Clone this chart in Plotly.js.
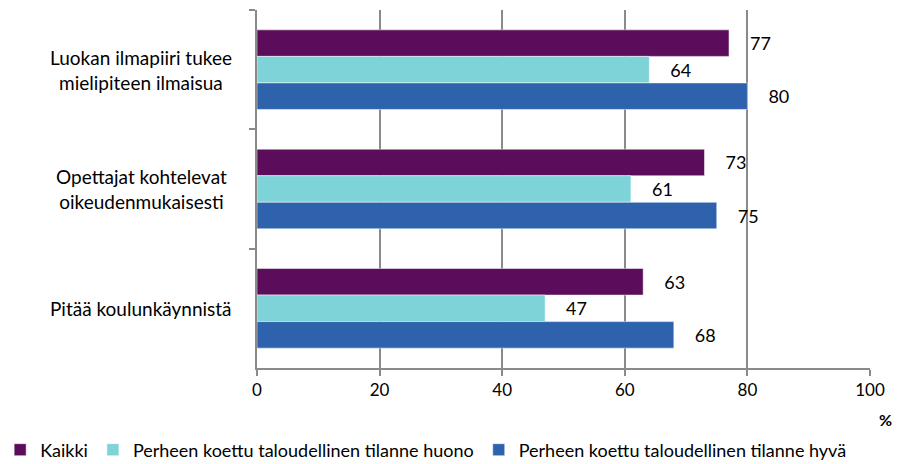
<!DOCTYPE html>
<html>
<head>
<meta charset="utf-8">
<script src="https://cdn.plot.ly/plotly-3.0.1.min.js"></script>
<style>
  html, body { margin: 0; padding: 0; background: #fff; }
  #chart { width: 911px; height: 464px; }
</style>
</head>
<body>
<div id="chart"></div>
<script>
// Statements (top to bottom) and the share (%) of pupils agreeing
const categories = [
  "Luokan ilmapiiri tukee<br>mielipiteen ilmaisua",
  "Opettajat kohtelevat<br>oikeudenmukaisesti",
  "Pitää koulunkäynnistä"
];
const seriesNames = [
  "Kaikki",
  "Perheen koettu taloudellinen tilanne huono",
  "Perheen koettu taloudellinen tilanne hyvä"
];
const kaikki = [77, 73, 63];
const huono = [64, 61, 47];
const hyva = [80, 75, 68];
const xTicks = [0, 20, 40, 60, 80, 100];

const colors = ["#5B0C5A", "#7DD3D8", "#2E62AD"];
const FONT = "Lato, 'Open Sans', sans-serif";

const values = [kaikki, huono, hyva];
const traces = values.map((v, i) => ({
  type: "bar",
  orientation: "h",
  name: seriesNames[i],
  x: v,
  y: categories,
  texttemplate: "\u2002\u2002%{x}",
  textposition: "outside",
  cliponaxis: false,
  textfont: { family: FONT, size: 18, color: "#000" },
  marker: { color: colors[i], line: { color: "rgba(255,255,255,0.5)", width: 1 } },
  hoverinfo: "x+name"
}));

// Category labels drawn as centred annotations to the left of the plot
const labelAnnotations = categories.map(c => ({
  xref: "paper", yref: "y",
  x: -0.189, y: c,
  xanchor: "center", yanchor: "middle",
  text: c, showarrow: false, align: "center",
  font: { family: FONT, size: 19, color: "#000" }
}));

const layout = {
  width: 911, height: 464,
  margin: { l: 257, r: 41, t: 10, b: 96, autoexpand: false },
  paper_bgcolor: "#fff", plot_bgcolor: "#fff",
  barmode: "group",
  bargap: 0.333,
  bargroupgap: 0,
  font: { family: FONT, size: 17, color: "#000" },
  xaxis: {
    range: [0, 100],
    tickvals: xTicks,
    ticktext: xTicks.map(String),
    showgrid: true, gridcolor: "#8A8A8A", gridwidth: 2,
    zeroline: false,
    showline: true, linecolor: "#8A8A8A", linewidth: 2,
    ticks: "outside", ticklen: 6, tickwidth: 2, tickcolor: "#8A8A8A",
    tickfont: { family: FONT, size: 17, color: "#000" },
    fixedrange: true
  },
  yaxis: {
    type: "category",
    autorange: "reversed",
    showticklabels: false,
    showgrid: false, zeroline: false,
    showline: true, linecolor: "#8A8A8A", linewidth: 2,
    ticks: "outside", tickson: "boundaries", ticklen: 6, tickwidth: 2, tickcolor: "#8A8A8A",
    fixedrange: true
  },
  showlegend: true,
  legend: {
    orientation: "h",
    xref: "paper", yref: "paper",
    x: -0.419, y: -0.229, xanchor: "left", yanchor: "middle",
    font: { family: FONT, size: 18, color: "#000" },
    traceorder: "normal",
    itemwidth: 30
  },
  annotations: labelAnnotations.concat([{
    xref: "paper", yref: "paper",
    x: 1.026, y: -0.145, xanchor: "center", yanchor: "middle",
    text: "<b>%</b>", showarrow: false,
    font: { family: FONT, size: 16, color: "#000" }
  }])
};

Plotly.newPlot("chart", traces, layout, { displayModeBar: false, staticPlot: true });
</script>
</body>
</html>
